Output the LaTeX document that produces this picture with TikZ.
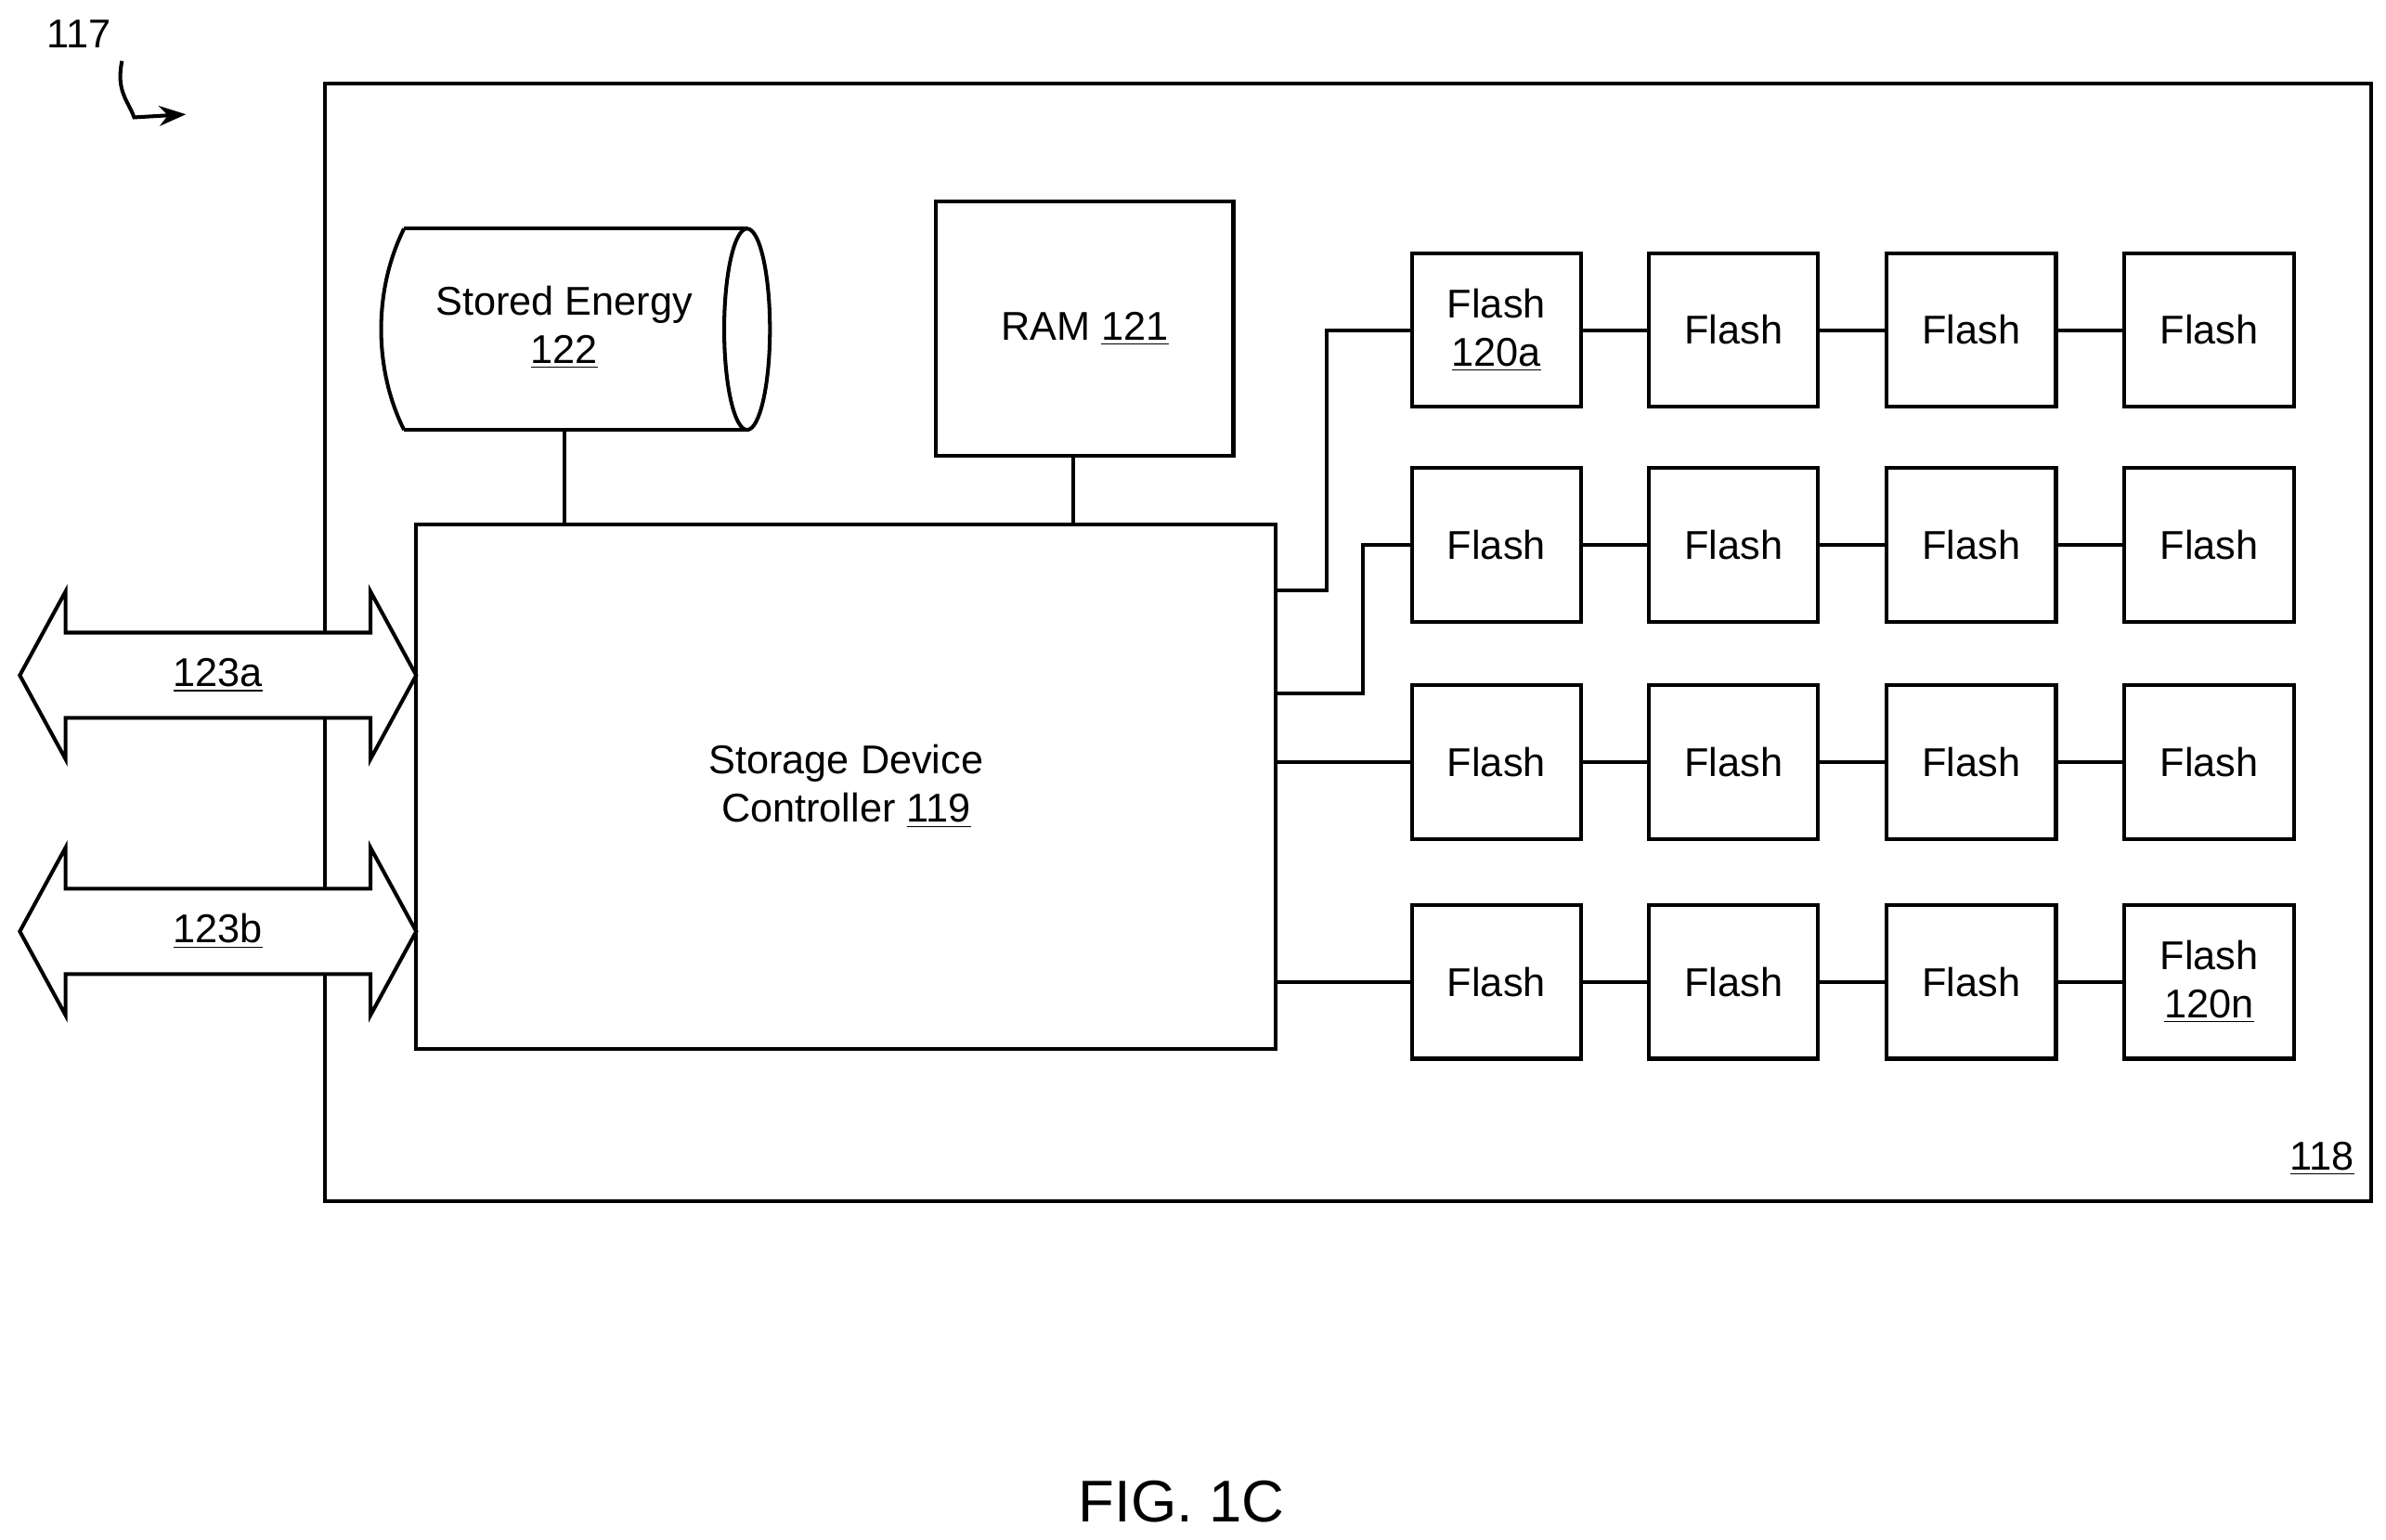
\documentclass[tikz,border=0pt]{standalone}
\usepackage{fontspec}
\setmainfont{Liberation Sans}
\usetikzlibrary{arrows.meta}
\begin{document}
\begin{tikzpicture}[x=0.02cm,y=-0.02cm,line width=1.4pt,
  every node/.style={font=\fontsize{15}{18}\selectfont,align=center},
  box/.style={draw,minimum width=2.22cm,minimum height=2.02cm,inner sep=0pt}]
\useasboundingbox (0,0) rectangle (1565,1010);
\draw (213,55) rectangle (1555,788);
\node at (1523,760) {\underline{118}};
\node at (52,22) {117};
\draw[-{Stealth[length=10pt]}] (80,40) .. controls (76,60) and (84,66) .. (88,77) -- (122,75);
% cylinder
\draw (265,150) -- (490,150) (265,282) -- (490,282);
\draw (265,150) .. controls (245,190) and (245,242) .. (265,282);
\draw (490,216) ellipse [x radius=15, y radius=66];
\coordinate (se) at (370,282);
\node (seT) at (370,215) {Stored Energy\\\underline{122}};
\node[draw,minimum width=3.9cm,minimum height=3.34cm,inner sep=0pt] (ram) at (711.5,215.5) {RAM \underline{121}};
\node[draw,minimum width=11.28cm,minimum height=6.88cm,inner sep=0pt] (ctl) at (555,516) {Storage Device\\Controller \underline{119}};
\draw (se) -- (se|-ctl.north);
\draw (704,299) -- (704,344);
% flash
\foreach \r/\y in {1/216.5,2/357.5,3/500,4/644}{
  \foreach \c/\x in {1/981.5,2/1137,3/1293,4/1449}{
    \ifnum\r\c=11 \node[box] (f\r\c) at (\x,\y) {Flash\\\underline{120a}};
    \else\ifnum\r\c=44 \node[box] (f\r\c) at (\x,\y) {Flash\\\underline{120n}};
    \else \node[box] (f\r\c) at (\x,\y) {Flash};\fi\fi
  }
  \draw (f\r1) -- (f\r2) (f\r2) -- (f\r3) (f\r3) -- (f\r4);
}
\draw (837,387) -- (870,387) |- (f11.west);
\draw (837,455) -- (894,455) |- (f21.west);
\draw (837,500) -- (f31.west);
\draw (837,644) -- (f41.west);
% double arrows
\foreach \cy/\lab in {443/123a,611/123b}{
  \draw[fill=white] (13,\cy) -- (43,\cy-55) -- (43,\cy-28) -- (243,\cy-28) -- (243,\cy-55) -- (273,\cy)
   -- (243,\cy+55) -- (243,\cy+28) -- (43,\cy+28) -- (43,\cy+55) -- cycle;
  \node at (143,\cy) {\underline{\lab}};
}
\node[font=\fontsize{22}{26}\selectfont] at (775,985) {FIG. 1C};
\end{tikzpicture}
\end{document}
